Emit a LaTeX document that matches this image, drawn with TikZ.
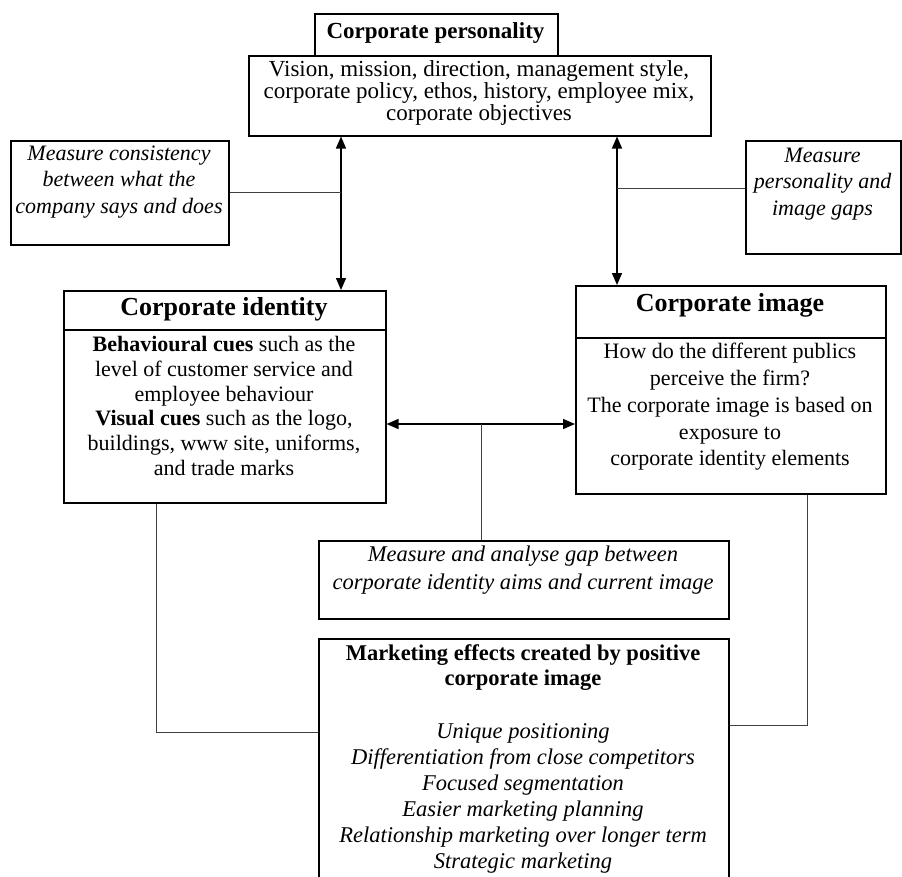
\documentclass[tikz,border=0pt]{standalone}
\usepackage{fontspec}
\setmainfont{Liberation Serif}
\usetikzlibrary{arrows.meta}
\begin{document}
\begin{tikzpicture}[x=1pt,y=-1pt,
  box/.style={draw, line width=1.5pt, rectangle, inner sep=0pt, anchor=north west},
  divider/.style={line width=1.5pt},
  body/.style={align=center, inner sep=0pt, font=\fontsize{22}{25}\selectfont},
  ital/.style={align=center, inner sep=0pt, font=\fontsize{22}{26.5}\selectfont\itshape},
  ttl/.style={inner sep=0pt, font=\fontsize{26}{30}\selectfont\bfseries},
  dbl/.style={line width=1.4pt, {Triangle[length=12pt,width=10pt]}-{Triangle[length=12pt,width=10pt]}},
  thinline/.style={line width=0.8pt, black!75}
]
\clip (0,0) rectangle (902,876);

% boxes
\node[box, minimum width=462pt, minimum height=80pt] (pbox) at (248,55) {};
\node[box, minimum width=243pt, minimum height=42pt] (ptitle) at (314,13) {};
\node[box, minimum width=218pt, minimum height=104pt] (lmeas) at (10,140) {};
\node[box, minimum width=155pt, minimum height=113pt] (rmeas) at (745,140) {};
\node[box, minimum width=322pt, minimum height=212pt] (idbox) at (63,290) {};
\node[box, minimum width=310pt, minimum height=208pt] (imbox) at (575,285) {};
\node[box, minimum width=410pt, minimum height=78pt] (gapbox) at (318,540) {};
\node[box, minimum width=410pt, minimum height=245pt] (mktbox) at (318,638) {};

% dividers
\coordinate (ydi) at (0,330);
\coordinate (ydm) at (0,338);
\draw[divider] (idbox.west |- ydi) -- (idbox.east |- ydi);
\draw[divider] (imbox.west |- ydm) -- (imbox.east |- ydm);

% texts
\node[inner sep=0pt, font=\fontsize{23}{26}\selectfont\bfseries] (ptitletxt) at (435.5,33) {Corporate personality};
\node[body, font=\fontsize{23}{22}\selectfont] (ptxt) at (479,93) {Vision, mission, direction, management style,\\corporate policy, ethos, history, employee mix,\\corporate objectives};
\node[ital] (lmtxt) at (119,182) {Measure consistency\\between what the\\company says and does};
\node[ital] (rmtxt) at (822.5,184) {Measure\\personality and\\image gaps};
\node[ttl] (idttl) at (224,309) {Corporate identity};
\node[body, font=\fontsize{22}{24.8}\selectfont] (idtxt) at (224,406) {\textbf{Behavioural cues} such as the\\level of customer service and\\employee behaviour\\\textbf{Visual cues} such as the logo,\\buildings, www site, uniforms,\\and trade marks};
\node[ttl] (imttl) at (730,305) {Corporate image};
\node[body, font=\fontsize{22}{26.7}\selectfont] (imtxt) at (730,407) {How do the different publics\\perceive the firm?\\The corporate image is based on\\exposure to\\corporate identity elements};
\node[ital, font=\fontsize{22.5}{28}\selectfont\itshape] (gaptxt) at (523,570) {Measure and analyse gap between\\corporate identity aims and current image};
\node[body, font=\fontsize{22.5}{25}\selectfont\bfseries] (mkthead) at (523,668) {Marketing effects created by positive\\corporate image};
\node[ital, font=\fontsize{22.5}{26}\selectfont\itshape] (mktlist) at (523,798) {Unique positioning\\Differentiation from close competitors\\Focused segmentation\\Easier marketing planning\\Relationship marketing over longer term\\Strategic marketing};

% connector coordinates
\coordinate (xl) at (341,0);
\coordinate (xr) at (617,0);
\coordinate (xm) at (481,0);
\coordinate (xll) at (156,0);
\coordinate (xrr) at (807,0);
\coordinate (yh) at (0,424);
\coordinate (yl) at (0,192);
\coordinate (yr) at (0,188);
\coordinate (yll) at (0,732);
\coordinate (yrr) at (0,725);

% connectors
\draw[dbl] (pbox.south -| xl) -- (idbox.north -| xl);
\draw[dbl] (pbox.south -| xr) -- (imbox.north -| xr);
\draw[dbl] (idbox.east |- yh) -- (imbox.west |- yh);
\draw[thinline] (lmeas.east |- yl) -- (yl -| xl);
\draw[thinline] (rmeas.west |- yr) -- (yr -| xr);
\draw[thinline] (yh -| xm) -- (gapbox.north -| xm);
\draw[thinline] (idbox.south -| xll) |- (mktbox.west |- yll);
\draw[thinline] (imbox.south -| xrr) |- (mktbox.east |- yrr);
\end{tikzpicture}
\end{document}
